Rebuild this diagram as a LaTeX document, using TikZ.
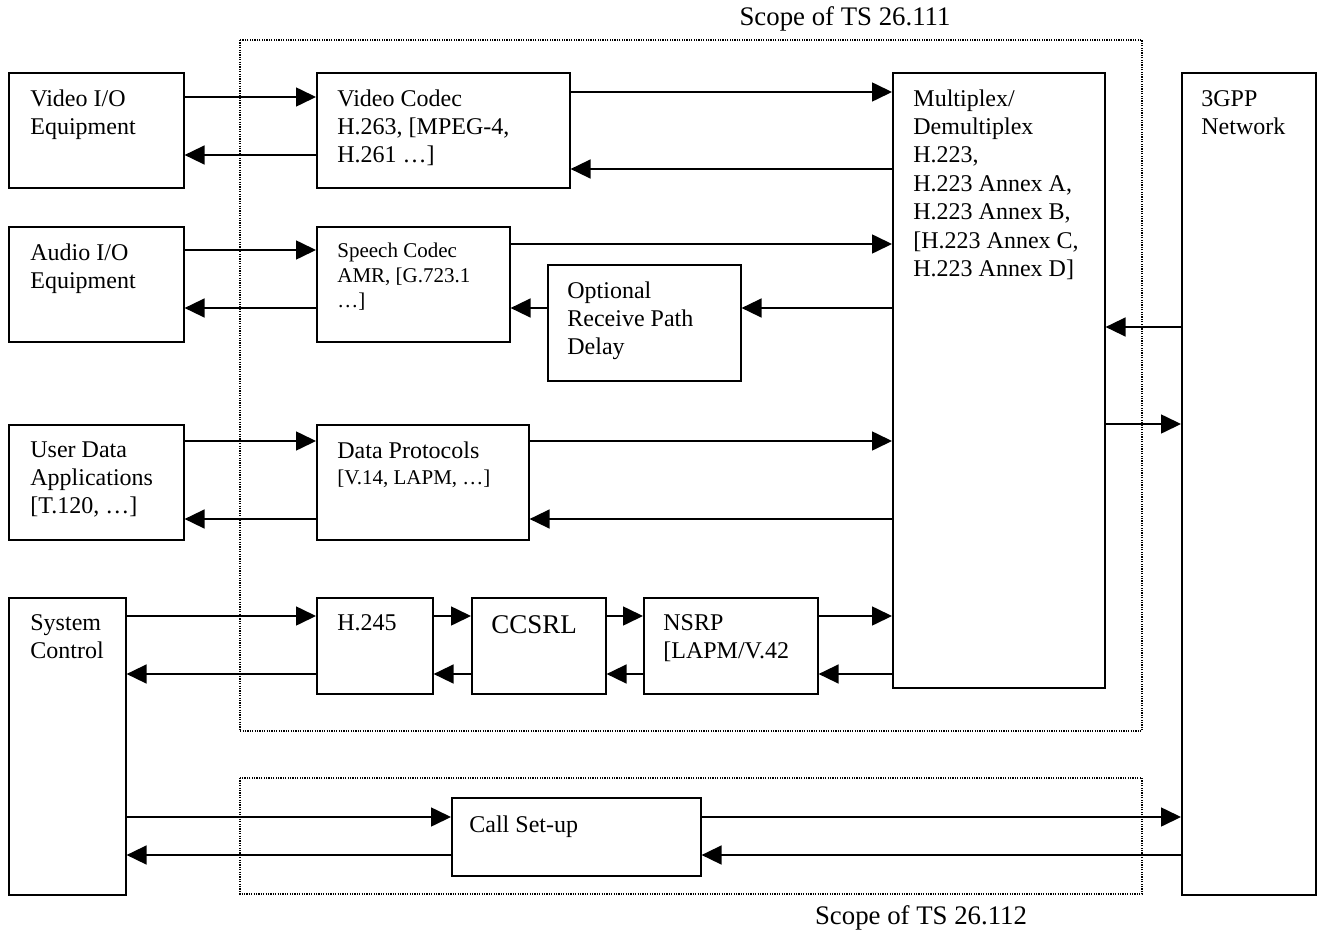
\documentclass[tikz,border=0pt]{standalone}
\usepackage{fontspec}
\setmainfont{Liberation Serif}
\usetikzlibrary{arrows.meta,positioning}

\tikzset{
  blk/.style={draw, line width=0.8pt, anchor=north west, inner sep=0pt},
  txt/.style={inner sep=0pt, align=left, font=\fontsize{12}{14.2}\selectfont},
  smalltxt/.style={inner sep=0pt, align=left, font=\fontsize{10.5}{12.3}\selectfont},
  scopetxt/.style={inner sep=0pt, anchor=base, font=\fontsize{13.4}{16}\selectfont},
  arr/.style={-{Triangle[length=10pt,width=9.5pt]}, line width=0.8pt},
  tsbox/.style={line width=0.6pt, dash pattern=on 0.6pt off 0.6pt},
}

\begin{document}
\begin{tikzpicture}[x=0.5pt,y=-0.5pt]
    \useasboundingbox (0,0) rectangle (1321,936);
    % scopes of the two specs
    \draw[tsbox] (240,40) rectangle (1142,731);
    \draw[tsbox] (240,778) rectangle (1142,894);
    \node[scopetxt] (ts111) at (845,26) {Scope of TS 26.111};
    \node[scopetxt] (ts112) at (921,924) {Scope of TS 26.112};

    % boxes
    \node[blk, minimum width=87.5pt, minimum height=57.5pt] (vio) at (8,72) {};
    \node[blk, minimum width=126.5pt, minimum height=57.5pt] (vcod) at (316,72) {};
    \node[blk, minimum width=106pt, minimum height=307.5pt] (mux) at (892,72) {};
    \node[blk, minimum width=67pt, minimum height=411pt] (net) at (1181,72) {};
    \node[blk, minimum width=87.5pt, minimum height=57.5pt] (aio) at (8,226) {};
    \node[blk, minimum width=96.5pt, minimum height=57.5pt] (spc) at (316,226) {};
    \node[blk, minimum width=96.5pt, minimum height=58pt] (opt) at (547,264) {};
    \node[blk, minimum width=87.5pt, minimum height=57.5pt] (udat) at (8,424) {};
    \node[blk, minimum width=106pt, minimum height=57.5pt] (dprot) at (316,424) {};
    \node[blk, minimum width=58.5pt, minimum height=148.5pt] (sys) at (8,597) {};
    \node[blk, minimum width=58pt, minimum height=48pt] (h245) at (316,597) {};
    \node[blk, minimum width=67pt, minimum height=48pt] (ccsrl) at (471,597) {};
    \node[blk, minimum width=87pt, minimum height=48pt] (nsrp) at (643,597) {};
    \node[blk, minimum width=124.5pt, minimum height=39pt] (call) at (451,797) {};

    % box texts
    \node[txt, below right=8.5pt and 11pt of vio.north west] (vio-t) {Video I/O\\Equipment};
    \node[txt, below right=8.5pt and 10.5pt of vcod.north west] (vcod-t) {Video Codec\\H.263, [MPEG-4,\\H.261 …]};
    \node[txt, below right=8.5pt and 10.5pt of mux.north west] (mux-t) {Multiplex/\\Demultiplex\\H.223,\\H.223 Annex A,\\H.223 Annex B,\\{[}H.223 Annex C,\\H.223 Annex D]};
    \node[txt, below right=9pt and 10pt of net.north west] (net-t) {3GPP\\Network};
    \node[txt, below right=8.5pt and 11pt of aio.north west] (aio-t) {Audio I/O\\Equipment};
    \node[smalltxt, below right=8.5pt and 10.5pt of spc.north west] (spc-t) {Speech Codec\\AMR, [G.723.1\\…]};
    \node[txt, below right=8.5pt and 10pt of opt.north west] (opt-t) {Optional\\Receive Path\\Delay};
    \node[txt, below right=8.5pt and 11pt of udat.north west] (udat-t) {User Data\\Applications\\{[}T.120, …]};
    \node[txt, below right=8.5pt and 10.5pt of dprot.north west] (dprot-t) {Data Protocols\\[-1pt]{\fontsize{10.5}{12.3}\selectfont{[}V.14, LAPM, …]}};
    \node[txt, below right=8.5pt and 11pt of sys.north west] (sys-t) {System\\Control};
    \node[txt, below right=8.5pt and 10.5pt of h245.north west] (h245-t) {H.245};
    \node[txt, font=\fontsize{13.5}{16}\selectfont, below right=9pt and 10pt of ccsrl.north west] (ccsrl-t) {CCSRL};
    \node[txt, below right=8.5pt and 10pt of nsrp.north west] (nsrp-t) {NSRP\\{[}LAPM/V.42};
    \node[txt, below right=9pt and 9pt of call.north west] (call-t) {Call Set-up};

    % video
    \draw[arr] (vio.east |- 0,97) -- (vcod.west |- 0,97);
    \draw[arr] (vcod.west |- 0,155) -- (vio.east |- 0,155);
    \draw[arr] (vcod.east |- 0,92) -- (mux.west |- 0,92);
    \draw[arr] (mux.west |- 0,169) -- (vcod.east |- 0,169);
    % audio
    \draw[arr] (aio.east |- 0,250) -- (spc.west |- 0,250);
    \draw[arr] (spc.west |- 0,308) -- (aio.east |- 0,308);
    \draw[arr] (spc.east |- 0,244) -- (mux.west |- 0,244);
    \draw[arr] (mux.west |- 0,308) -- (opt.east |- 0,308);
    \draw[arr] (opt.west |- 0,308) -- (spc.east |- 0,308);
    % data
    \draw[arr] (udat.east |- 0,441) -- (dprot.west |- 0,441);
    \draw[arr] (dprot.west |- 0,519) -- (udat.east |- 0,519);
    \draw[arr] (dprot.east |- 0,441) -- (mux.west |- 0,441);
    \draw[arr] (mux.west |- 0,519) -- (dprot.east |- 0,519);
    % control
    \draw[arr] (sys.east |- 0,616) -- (h245.west |- 0,616);
    \draw[arr] (h245.west |- 0,674) -- (sys.east |- 0,674);
    \draw[arr] (h245.east |- 0,616) -- (ccsrl.west |- 0,616);
    \draw[arr] (ccsrl.west |- 0,674) -- (h245.east |- 0,674);
    \draw[arr] (ccsrl.east |- 0,616) -- (nsrp.west |- 0,616);
    \draw[arr] (nsrp.west |- 0,674) -- (ccsrl.east |- 0,674);
    \draw[arr] (nsrp.east |- 0,616) -- (mux.west |- 0,616);
    \draw[arr] (mux.west |- 0,674) -- (nsrp.east |- 0,674);
    % network
    \draw[arr] (net.west |- 0,327) -- (mux.east |- 0,327);
    \draw[arr] (mux.east |- 0,424) -- (net.west |- 0,424);
    % call set-up
    \draw[arr] (sys.east |- 0,817) -- (call.west |- 0,817);
    \draw[arr] (call.west |- 0,855) -- (sys.east |- 0,855);
    \draw[arr] (call.east |- 0,817) -- (net.west |- 0,817);
    \draw[arr] (net.west |- 0,855) -- (call.east |- 0,855);
\end{tikzpicture}
\end{document}
